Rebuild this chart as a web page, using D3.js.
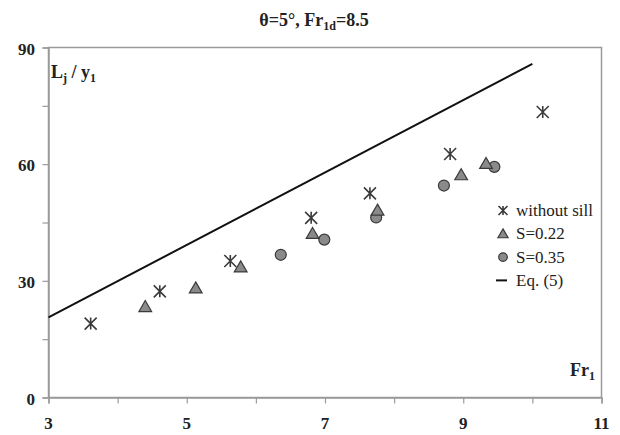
<!DOCTYPE html>
<html>
<head>
<meta charset="utf-8">
<script src="https://cdn.jsdelivr.net/npm/d3@7"></script>
<style>
	body { margin: 0; background: #fff; }
	svg, svg text, svg tspan { font-family: "Liberation Serif", "DejaVu Serif", serif; }
</style>
</head>
<body>
<svg id="chart" width="620" height="435"></svg>
<script>
var noSillX = [3.61, 4.61, 5.63, 6.80, 7.65, 8.81, 10.15];
var noSillY = [19.0, 27.3, 35.1, 46.2, 52.5, 62.6, 73.4];

var s22X = [4.40, 5.13, 5.78, 6.82, 7.76, 8.97, 9.33];
var s22Y = [23.3, 28.1, 33.5, 42.1, 48.1, 57.2, 60.1];

var s35X = [6.36, 6.99, 7.74, 8.72, 9.45];
var s35Y = [36.7, 40.6, 46.3, 54.5, 59.3];

// Eq. (5) line ends
var eqX = [3, 10.0];
var eqY = [20.6, 85.8];

var xTicks = [3, 4, 5, 6, 7, 8, 9, 10, 11];
var xLabels = [3, 5, 7, 9, 11];
var yTicks = [0, 15, 30, 45, 60, 75, 90];
var yLabels = [0, 30, 60, 90];

var legendNames = ["without sill", "S=0.22", "S=0.35", "Eq. (5)"];

var serif = "'Liberation Serif', 'DejaVu Serif', serif";

var svg = d3.select("#chart").attr("font-family", serif);

var x = d3.scaleLinear().domain([3, 11]).range([48.5, 601.5]);
var y = d3.scaleLinear().domain([0, 90]).range([397.5, 47.5]);

var axisColor = "#9a9a9a";

// frame
svg.append("rect")
	.attr("x", x(3)).attr("y", y(90))
	.attr("width", x(11) - x(3)).attr("height", y(0) - y(90))
	.attr("fill", "none")
	.attr("stroke", axisColor)
	.attr("stroke-width", 1.5);

var xAxis = svg.append("g")
	.attr("transform", "translate(0," + y(0) + ")")
	.call(d3.axisBottom(x).tickValues(xTicks).tickSize(6).tickFormat(""));
var yAxis = svg.append("g")
	.attr("transform", "translate(" + x(3) + ",0)")
	.call(d3.axisLeft(y).tickValues(yTicks).tickSize(6).tickFormat(""));

[xAxis, yAxis].forEach(function(a) {
	a.select(".domain").attr("stroke", axisColor).attr("stroke-width", 1.5);
	a.selectAll(".tick line").attr("stroke", axisColor).attr("stroke-width", 1.2);
});

svg.append("g").selectAll("text")
	.data(xLabels).enter().append("text")
	.attr("x", function(d) { return x(d); })
	.attr("y", 429)
	.attr("text-anchor", "middle")
	.attr("font-family", serif)
	.attr("font-size", "17px")
	.attr("font-weight", "bold")
	.attr("fill", "#222")
	.text(function(d) { return d; });

svg.append("g").selectAll("text")
	.data(yLabels).enter().append("text")
	.attr("x", 35)
	.attr("y", function(d) { return y(d) + 7; })
	.attr("text-anchor", "end")
	.attr("font-family", serif)
	.attr("font-size", "17px")
	.attr("font-weight", "bold")
	.attr("fill", "#222")
	.text(function(d) { return d; });

// title
var title = svg.append("text")
	.attr("x", 314).attr("y", 26)
	.attr("text-anchor", "middle")
	.attr("font-family", serif)
	.attr("font-size", "18px")
	.attr("font-weight", "bold")
	.attr("fill", "#222");
title.append("tspan").text("θ=5°, Fr");
title.append("tspan").attr("font-size", "12px").attr("dy", 4).text("1d");
title.append("tspan").attr("dy", -4).text("=8.5");

// axis titles
var yTitle = svg.append("text")
	.attr("x", 51).attr("y", 78)
	.attr("font-family", serif)
	.attr("font-size", "18px")
	.attr("font-weight", "bold")
	.attr("fill", "#222");
yTitle.append("tspan").text("L");
yTitle.append("tspan").attr("font-size", "12px").attr("dy", 4).text("j");
yTitle.append("tspan").attr("dy", -4).text(" / y");
yTitle.append("tspan").attr("font-size", "12px").attr("dy", 4).text("1");

var xTitle = svg.append("text")
	.attr("x", 570).attr("y", 376)
	.attr("font-family", serif)
	.attr("font-size", "18px")
	.attr("font-weight", "bold")
	.attr("fill", "#222");
xTitle.append("tspan").text("Fr");
xTitle.append("tspan").attr("font-size", "12px").attr("dy", 4).text("1");

// Eq. (5)
var eqPts = eqX.map(function(d, i) { return [d, eqY[i]]; });
svg.append("path")
	.datum(eqPts)
	.attr("d", d3.line().x(function(d) { return x(d[0]); }).y(function(d) { return y(d[1]); }))
	.attr("fill", "none")
	.attr("stroke", "#111")
	.attr("stroke-width", 2);

var markFill = "#8a8a8a", markStroke = "#3a3a3a";

function drawStar(g, cx, cy, r) {
	r = r || 6;
	g.append("path")
		.attr("d", "M" + (cx - r) + "," + (cy - r) + "L" + (cx + r) + "," + (cy + r) +
			"M" + (cx - r) + "," + (cy + r) + "L" + (cx + r) + "," + (cy - r) +
			"M" + cx + "," + (cy - r) + "L" + cx + "," + (cy + r))
		.attr("stroke", markStroke)
		.attr("stroke-width", 1.6)
		.attr("fill", "none");
}
function drawTri(g, cx, cy, s) {
	g.append("path")
		.attr("d", d3.symbol().type(d3.symbolTriangle).size(s || 70)())
		.attr("transform", "translate(" + cx + "," + (cy + 1) + ")")
		.attr("fill", markFill)
		.attr("stroke", markStroke)
		.attr("stroke-width", 1.2);
}
function drawCirc(g, cx, cy, r) {
	g.append("circle")
		.attr("cx", cx).attr("cy", cy).attr("r", r || 5.5)
		.attr("fill", markFill)
		.attr("stroke", markStroke)
		.attr("stroke-width", 1.2);
}

var marks = svg.append("g");
s35X.forEach(function(d, i) { drawCirc(marks, x(d), y(s35Y[i])); });
s22X.forEach(function(d, i) { drawTri(marks, x(d), y(s22Y[i])); });
noSillX.forEach(function(d, i) { drawStar(marks, x(d), y(noSillY[i])); });

// legend
var legend = svg.append("g");
var legendDraw = [
	function(g, cx, cy) { drawStar(g, cx, cy, 4.5); },
	function(g, cx, cy) { drawTri(g, cx, cy, 45); },
	function(g, cx, cy) { drawCirc(g, cx, cy, 4.3); },
	function(g, cx, cy) {
		g.append("line")
			.attr("x1", cx - 7).attr("x2", cx + 4)
			.attr("y1", cy).attr("y2", cy)
			.attr("stroke", "#111").attr("stroke-width", 2);
	}];
legendNames.forEach(function(name, i) {
	var ly = 210.5 + i * 23.3;
	legendDraw[i](legend, 503, ly);
	legend.append("text")
		.attr("x", 516).attr("y", ly + 5.5)
		.attr("font-family", serif)
		.attr("font-size", "17px")
		.attr("fill", "#222")
		.text(name);
});
</script>
</body>
</html>
